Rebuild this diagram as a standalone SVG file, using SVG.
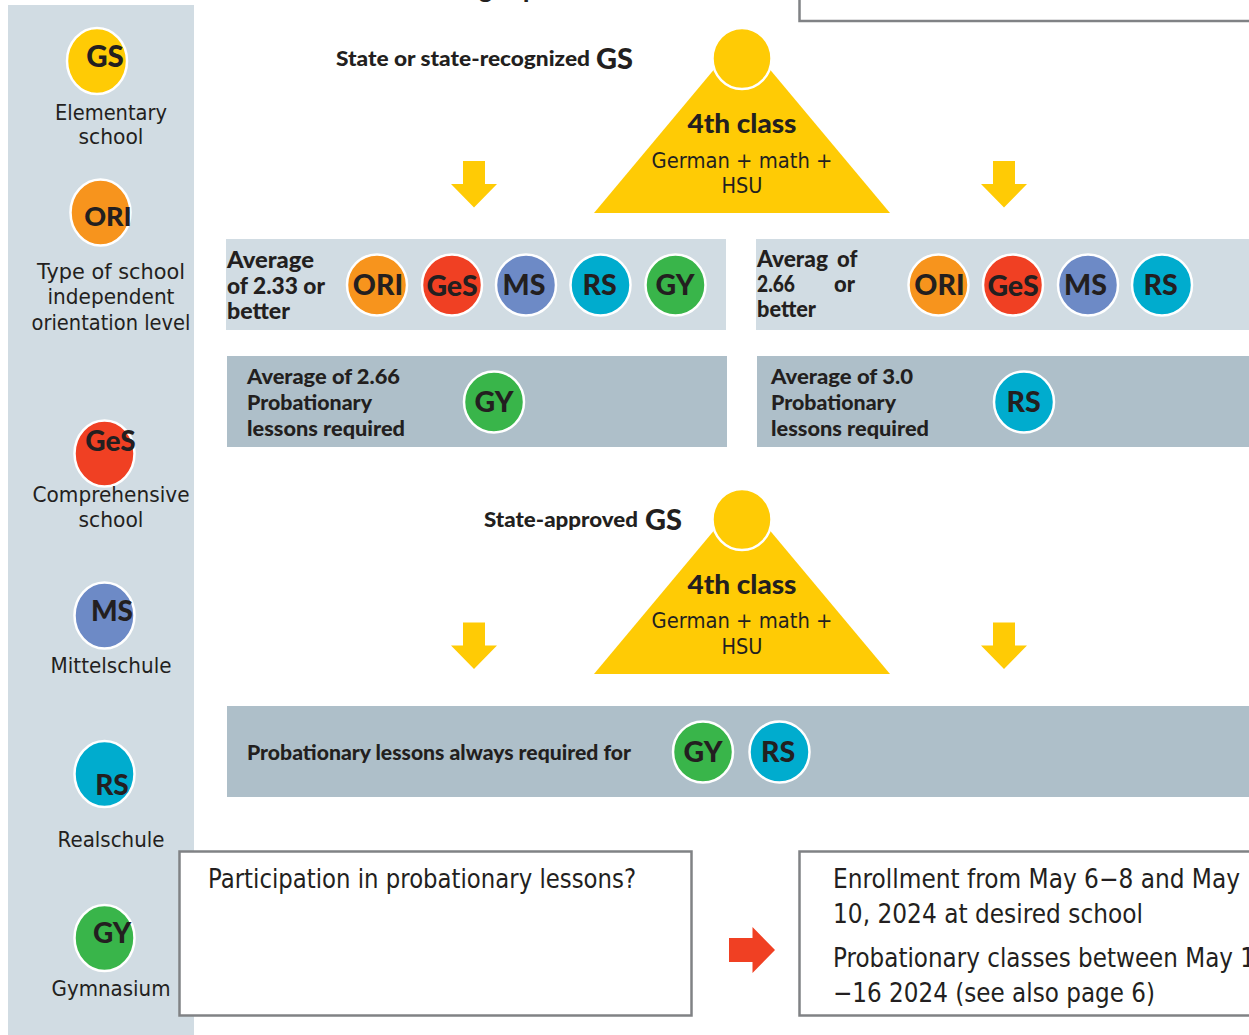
<svg xmlns="http://www.w3.org/2000/svg" width="1249" height="1035" viewBox="0 0 1249 1035">
<style>
text{fill:#231f20;font-family:"Lato","Liberation Sans",sans-serif}
.b{font-weight:900}
.r{font-family:"DejaVu Sans","Liberation Sans",sans-serif;font-weight:400}
.m{text-anchor:middle}
.leg{font-size:21px}
.bx{font-size:26.500px}
.pill{font-size:28.500px;font-weight:900;text-anchor:middle}
.c{stroke:#fff;stroke-width:2.500}
.gs{fill:#ffcb05}.ori{fill:#f7941d}.ges{fill:#f04023}.ms{fill:#6d8ac6}.rs{fill:#00acce}.gy{fill:#39b54a}
.lt{fill:#d1dce3}.dk{fill:#aebfc9}
.box{fill:#fff;stroke:#808285;stroke-width:2.500}
.ya{fill:#ffcb05}
</style>
<g id="legend-panel"><rect class="lt" x="8" y="5" width="186" height="1030"/></g>
<g id="top-box"><rect class="box" x="799.500" y="-10" width="470" height="31"/></g>
<g id="heading-fragment"><text class="b" font-size="25" x="479" y="-2">g</text><text class="b" font-size="25" x="523" y="-2">p</text></g>

<g id="legend-gs"><ellipse class="c gs" cx="97" cy="61" rx="30" ry="33"/><text class="pill" style="font-size:29.500px" x="105" y="67">GS</text>
<text class="r leg m" lengthAdjust="spacingAndGlyphs" x="111" y="120" textLength="112">Elementary</text><text class="r leg m" lengthAdjust="spacingAndGlyphs" x="111" y="144" textLength="65">school</text></g>
<g id="legend-ori"><ellipse class="c ori" cx="100.500" cy="212.500" rx="30" ry="33"/><text class="pill" style="font-size:27px" x="108" y="226">ORI</text>
<text class="r leg m" lengthAdjust="spacingAndGlyphs" x="111" y="279" textLength="148">Type of school</text><text class="r leg m" lengthAdjust="spacingAndGlyphs" x="111" y="304" textLength="127">independent</text><text class="r leg m" lengthAdjust="spacingAndGlyphs" x="111" y="330" textLength="159">orientation level</text></g>
<g id="legend-ges"><ellipse class="c ges" cx="104.500" cy="453.500" rx="30" ry="33"/><text class="pill" style="font-size:28px" x="110.500" y="451">GeS</text>
<text class="r leg m" lengthAdjust="spacingAndGlyphs" x="111" y="502" textLength="157">Comprehensive</text><text class="r leg m" lengthAdjust="spacingAndGlyphs" x="111" y="527" textLength="65">school</text></g>
<g id="legend-ms"><ellipse class="c ms" cx="104.500" cy="615.500" rx="30" ry="33"/><text class="pill" style="font-size:28px" x="112" y="621">MS</text>
<text class="r leg m" lengthAdjust="spacingAndGlyphs" x="111" y="673" textLength="121">Mittelschule</text></g>
<g id="legend-rs"><ellipse class="c rs" cx="104.500" cy="774" rx="30" ry="33"/><text class="pill" style="font-size:28px" x="112" y="795">RS</text>
<text class="r leg m" lengthAdjust="spacingAndGlyphs" x="111" y="847" textLength="107">Realschule</text></g>
<g id="legend-gy"><ellipse class="c gy" cx="104.500" cy="938" rx="30" ry="33"/><text class="pill" style="font-size:28px" x="112" y="943">GY</text>
<text class="r leg m" lengthAdjust="spacingAndGlyphs" x="111" y="996" textLength="119">Gymnasium</text></g>

<g id="label-state"><text class="b" font-size="21.500" lengthAdjust="spacingAndGlyphs" x="336" y="66" textLength="254">State or state-recognized</text><text class="b" font-size="29" x="596" y="69">GS</text></g>
<g id="triangle-1"><path class="ya" d="M742 36L890 213H594Z"/><ellipse class="c gs" cx="742" cy="58.500" rx="29.500" ry="30.500"/>
<text class="b m" font-size="27" lengthAdjust="spacingAndGlyphs" x="742" y="133" textLength="109">4th class</text><text class="r m" font-size="21.500" lengthAdjust="spacingAndGlyphs" x="742" y="168" textLength="181">German + math +</text><text class="r m" font-size="21.500" lengthAdjust="spacingAndGlyphs" x="742" y="193" textLength="41">HSU</text></g>

<g id="connectors">
<path class="ya" d="M463 161H485V184H497L474 207.500L451 184H463Z"/>
<path class="ya" d="M993 161H1015V184H1027L1004 207.500L981 184H993Z"/>
<path class="ya" d="M463 622.500H485V645.500H497L474 669L451 645.500H463Z"/>
<path class="ya" d="M993 622.500H1015V645.500H1027L1004 669L981 645.500H993Z"/>
<path fill="#f04023" d="M729 938H752.500V927L775 950L752.500 973V962H729Z"/>
</g>

<g id="band-1"><rect class="lt" x="226" y="239" width="500" height="91"/>
<text class="b" font-size="23" lengthAdjust="spacingAndGlyphs" x="227" y="268" textLength="87">Average</text><text class="b" font-size="23" lengthAdjust="spacingAndGlyphs" x="227" y="294" textLength="98">of 2.33 or</text><text class="b" font-size="23" lengthAdjust="spacingAndGlyphs" x="227" y="319" textLength="63">better</text>
<ellipse class="c ori" cx="377" cy="285" rx="30" ry="30.500"/><text class="pill" x="378" y="295">ORI</text>
<ellipse class="c ges" cx="452" cy="285" rx="30" ry="30.500"/><text class="pill" x="452" y="296">GeS</text>
<ellipse class="c ms" cx="526" cy="285" rx="30" ry="30.500"/><text class="pill" x="524" y="295">MS</text>
<ellipse class="c rs" cx="600.500" cy="285" rx="30" ry="30.500"/><text class="pill" x="599.500" y="295">RS</text>
<ellipse class="c gy" cx="675.500" cy="285" rx="30" ry="30.500"/><text class="pill" x="675" y="295">GY</text></g>
<g id="band-2"><rect class="lt" x="756" y="239" width="493" height="91"/>
<text class="b" font-size="22" lengthAdjust="spacingAndGlyphs" x="757" y="267" textLength="71">Averag</text><text class="b" font-size="22" x="837" y="267">of</text><text class="b" font-size="22" lengthAdjust="spacingAndGlyphs" x="757" y="292" textLength="38">2.66</text><text class="b" font-size="22" x="834" y="292">or</text><text class="b" font-size="22" lengthAdjust="spacingAndGlyphs" x="757" y="317" textLength="59">better</text>
<ellipse class="c ori" cx="938.500" cy="285" rx="30" ry="30.500"/><text class="pill" x="939.500" y="295">ORI</text>
<ellipse class="c ges" cx="1013" cy="285" rx="30" ry="30.500"/><text class="pill" x="1013" y="296">GeS</text>
<ellipse class="c ms" cx="1088" cy="285" rx="30" ry="30.500"/><text class="pill" x="1085.500" y="295">MS</text>
<ellipse class="c rs" cx="1162" cy="285" rx="30" ry="30.500"/><text class="pill" x="1160.500" y="295">RS</text></g>
<g id="band-3"><rect class="dk" x="227" y="356" width="500" height="91"/>
<text class="b" font-size="21.500" lengthAdjust="spacingAndGlyphs" x="247" y="384" textLength="153">Average of 2.66</text><text class="b" font-size="21.500" lengthAdjust="spacingAndGlyphs" x="247" y="410" textLength="125">Probationary</text><text class="b" font-size="21.500" lengthAdjust="spacingAndGlyphs" x="247" y="436" textLength="158">lessons required</text>
<ellipse class="c gy" cx="494" cy="402" rx="30" ry="30.500"/><text class="pill" x="494" y="412">GY</text></g>
<g id="band-4"><rect class="dk" x="757" y="356" width="492" height="91"/>
<text class="b" font-size="21.500" lengthAdjust="spacingAndGlyphs" x="771" y="384" textLength="142">Average of 3.0</text><text class="b" font-size="21.500" lengthAdjust="spacingAndGlyphs" x="771" y="410" textLength="125">Probationary</text><text class="b" font-size="21.500" lengthAdjust="spacingAndGlyphs" x="771" y="436" textLength="158">lessons required</text>
<ellipse class="c rs" cx="1024" cy="402" rx="30" ry="30.500"/><text class="pill" x="1023.500" y="412">RS</text></g>

<g id="label-approved"><text class="b" font-size="21.500" lengthAdjust="spacingAndGlyphs" x="484" y="527" textLength="154">State-approved</text><text class="b" font-size="29" x="645" y="530">GS</text></g>
<g id="triangle-2"><path class="ya" d="M742 497L890 674H594Z"/><ellipse class="c gs" cx="742" cy="519.500" rx="29.500" ry="30.500"/>
<text class="b m" font-size="27" lengthAdjust="spacingAndGlyphs" x="742" y="594" textLength="109">4th class</text><text class="r m" font-size="21.500" lengthAdjust="spacingAndGlyphs" x="742" y="628" textLength="181">German + math +</text><text class="r m" font-size="21.500" lengthAdjust="spacingAndGlyphs" x="742" y="654" textLength="41">HSU</text></g>

<g id="band-5"><rect class="dk" x="227" y="706" width="1022" height="91"/>
<text class="b" font-size="21.500" lengthAdjust="spacingAndGlyphs" x="247" y="760" textLength="384">Probationary lessons always required for</text>
<ellipse class="c gy" cx="703" cy="752" rx="30" ry="30.500"/><text class="pill" x="703" y="762">GY</text>
<ellipse class="c rs" cx="779.500" cy="752" rx="30" ry="30.500"/><text class="pill" x="778" y="762">RS</text></g>

<g id="box-participation"><rect class="box" x="179.500" y="851.500" width="512" height="164"/>
<text class="r bx" lengthAdjust="spacingAndGlyphs" x="208" y="888" textLength="428">Participation in probationary lessons?</text></g>
<g id="box-enrollment"><rect class="box" x="799.500" y="851.500" width="470" height="164"/>
<text class="r bx" lengthAdjust="spacingAndGlyphs" x="833" y="888" textLength="407">Enrollment from May 6−8 and May</text><text class="r bx" lengthAdjust="spacingAndGlyphs" x="833" y="923" textLength="310">10, 2024 at desired school</text>
<text class="r bx" lengthAdjust="spacingAndGlyphs" x="833" y="967" textLength="422">Probationary classes between May 1</text><text class="r bx" lengthAdjust="spacingAndGlyphs" x="833" y="1002" textLength="322">−16 2024 (see also page 6)</text></g>
</svg>
